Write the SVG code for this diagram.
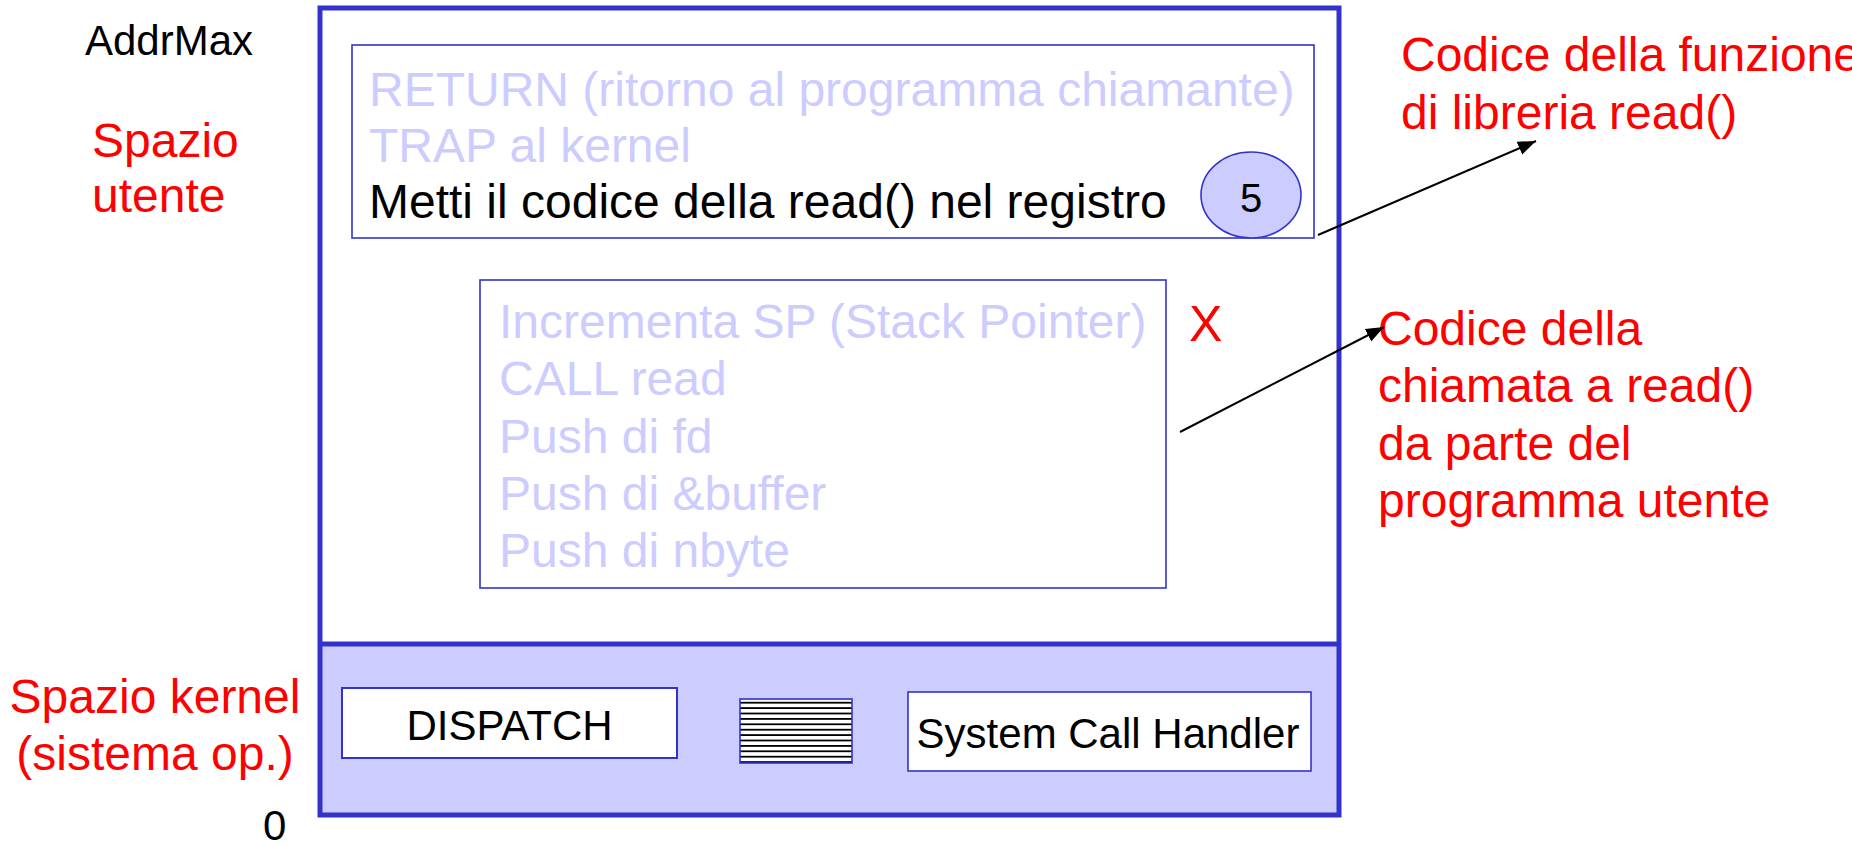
<svg xmlns="http://www.w3.org/2000/svg" width="1852" height="846" viewBox="0 0 1852 846">
  <defs>
    <style>
      text { font-family: "Liberation Sans", Arial, sans-serif; }
      .t48 { font-size: 48px; }
      .t42 { font-size: 42px; fill: #000; }
      .faded { fill: #CCCCFF; }
      .black { fill: #000; }
      .red { fill: #FF0000; font-size: 48px; }
      .thin { fill: #fff; stroke: #3333CC; stroke-width: 1.6; }
      .conn { stroke: #000; stroke-width: 2; fill: none; marker-end: url(#arrow); }
    </style>
    <marker id="arrow" markerUnits="userSpaceOnUse" markerWidth="20" markerHeight="16" refX="18" refY="7" orient="auto">
      <path d="M0,0 L18,7 L0,14 Z" fill="#000"/>
    </marker>
    <pattern id="hatch" patternUnits="userSpaceOnUse" x="0" y="700" width="10" height="5.4">
      <rect x="0" y="0" width="10" height="5.4" fill="#fff"/>
      <rect x="0" y="1.8" width="10" height="1.8" fill="#000"/>
    </pattern>
  </defs>

  <g id="memory">
    <rect x="320" y="8" width="1019" height="636" fill="#fff" stroke="none"/>
    <rect x="320" y="644" width="1019" height="171" fill="#CCCCFF" stroke="none"/>
    <rect x="320" y="8" width="1019" height="807" fill="none" stroke="#3333CC" stroke-width="5"/>
    <line x1="320" y1="644" x2="1339" y2="644" stroke="#3333CC" stroke-width="5"/>
  </g>

  <g id="labels-left">
    <text class="t42" x="85" y="55">AddrMax</text>
    <text class="red" x="92" y="157" font-size="47">Spazio</text>
    <text class="red" x="92" y="212" font-size="47">utente</text>
    <text class="red" x="155" y="713" text-anchor="middle" font-size="47">Spazio kernel</text>
    <text class="red" x="155" y="770" text-anchor="middle" font-size="47">(sistema op.)</text>
    <text class="t42" x="263" y="840">0</text>
  </g>

  <g id="library-code">
    <rect class="thin" x="352" y="45" width="962" height="193"/>
    <text class="t48 faded" x="369" y="106">RETURN (ritorno al programma chiamante)</text>
    <text class="t48 faded" x="369" y="162">TRAP al kernel</text>
    <text class="t48 black" x="369" y="218">Metti il codice della read() nel registro</text>
  </g>

  <g id="step-5">
    <ellipse cx="1251" cy="195" rx="50" ry="43" fill="#CCCCFF" stroke="#3333CC" stroke-width="1.6"/>
    <text x="1251" y="212" font-size="40" text-anchor="middle" fill="#000">5</text>
  </g>

  <g id="user-call-code">
    <rect class="thin" x="480" y="280" width="686" height="308"/>
    <text class="t48 faded" x="499" y="338">Incrementa SP (Stack Pointer)</text>
    <text class="t48 faded" x="499" y="395">CALL read</text>
    <text class="t48 faded" x="499" y="453">Push di fd</text>
    <text class="t48 faded" x="499" y="510">Push di &amp;buffer</text>
    <text class="t48 faded" x="499" y="567">Push di nbyte</text>
  </g>

  <g id="mark-x">
    <text x="1189" y="341" font-size="50" fill="#FF0000">X</text>
  </g>

  <g id="dispatch">
    <rect x="342" y="688" width="335" height="70" fill="#fff" stroke="#3333CC" stroke-width="2"/>
    <text class="t42" x="509.5" y="740" text-anchor="middle">DISPATCH</text>
  </g>

  <g id="table">
    <rect x="740" y="699" width="112" height="64" fill="url(#hatch)" stroke="#3333CC" stroke-width="1.6"/>
  </g>

  <g id="syscall-handler">
    <rect x="908" y="692" width="403" height="79" fill="#fff" stroke="#3333CC" stroke-width="1.6"/>
    <text class="t42" x="1108" y="748" text-anchor="middle">System Call Handler</text>
  </g>

  <g id="labels-right">
    <text class="red" x="1401" y="71">Codice della funzione</text>
    <text class="red" x="1401" y="129">di libreria read()</text>
    <text class="red" x="1378" y="345">Codice della</text>
    <text class="red" x="1378" y="402">chiamata a read()</text>
    <text class="red" x="1378" y="460">da parte del</text>
    <text class="red" x="1378" y="517">programma utente</text>
  </g>

  <g id="connectors">
    <line class="conn" x1="1318" y1="235" x2="1536" y2="141"/>
    <line class="conn" x1="1180" y1="432" x2="1384" y2="327"/>
  </g>
</svg>
